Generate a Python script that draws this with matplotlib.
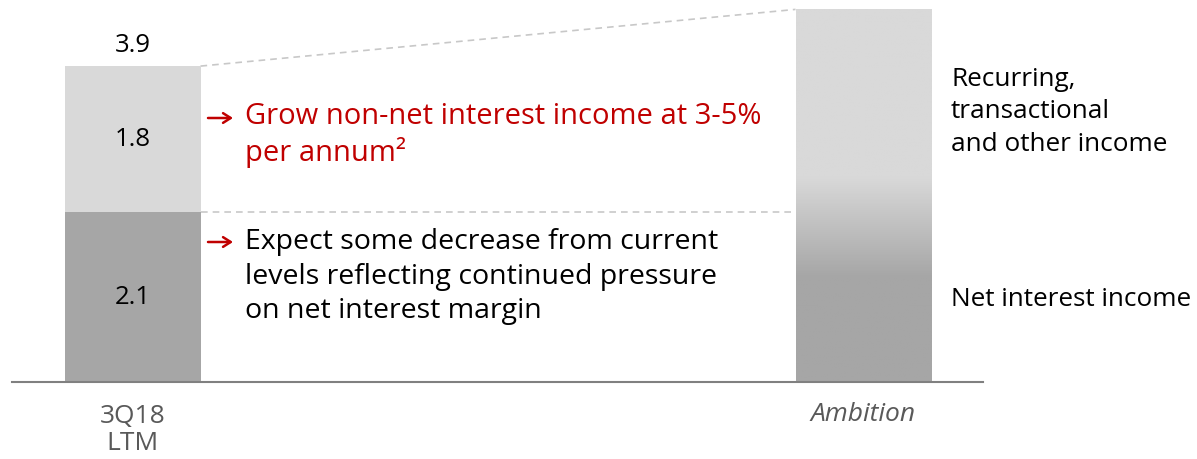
import matplotlib
matplotlib.use("Agg")
import matplotlib.pyplot as plt
import numpy as np
from matplotlib.colors import LinearSegmentedColormap

plt.rcParams['font.family'] = ['Open Sans', 'DejaVu Sans']

# data
categories = ['3Q18\nLTM', 'Ambition']
net_interest = [2.1]
other_income = [1.8]
totals = [3.9]
ambition_total = 4.6

LIGHT = '#d9d9d9'
DARK = '#a6a6a6'
RED = '#c00000'

W, H = 1197, 460
fig = plt.figure(figsize=(W / 100, H / 100), dpi=100)
ax = fig.add_axes([0, 0, 1, 1])

# x: bar centres at 0 and 1, 731 px apart; y: 0 at 383 px from top, 81 px per unit
xpx, ypx = 731.0, 81.0
x0, y0 = 132.5, 383.0
ax.set_xlim(-x0 / xpx, (W - x0) / xpx)
ax.set_ylim(-(H - y0) / ypx, y0 / ypx)
ax.axis('off')


def px(x, y):
    """reference pixel -> data coords"""
    return (x - x0) / xpx, (y0 - y) / ypx


bw = 136 / xpx

# left stacked bar
ax.bar([0], net_interest, width=bw, color=DARK, zorder=2)
ax.bar([0], other_income, width=bw, bottom=net_interest, color=LIGHT, zorder=2)

# ambition bar with vertical gradient
amb = ax.bar([1], [ambition_total], width=bw, color='none', zorder=2)[0]
cmap = LinearSegmentedColormap.from_list('g', [(0, DARK), (0.28, DARK), (0.55, LIGHT), (1, LIGHT)])
grad = np.linspace(0, 1, 256).reshape(-1, 1)
im = ax.imshow(grad, cmap=cmap, origin='lower', aspect='auto',
               extent=[1 - bw / 2, 1 + bw / 2, 0, ambition_total], zorder=1)
im.set_clip_path(amb)

# dashed connector lines
ax.plot([bw / 2, 1 - bw / 2], [totals[0], ambition_total], color='#c8c8c8',
        lw=1.2, ls=(0, (4, 3)), zorder=1)
ax.plot([bw / 2, 1 - bw / 2], [net_interest[0], net_interest[0]], color='#c8c8c8',
        lw=1.2, ls=(0, (4, 3)), zorder=1)

# baseline
xa, _ = px(12, 0)
xb, _ = px(983, 0)
ax.plot([xa, xb], [0, 0], color='#808080', lw=1.5, zorder=3)

# value labels
fs = 18.5
ax.text(0, totals[0] + 0.27, f'{totals[0]:.1f}', ha='center', va='center', fontsize=fs)
ax.text(0, net_interest[0] + other_income[0] / 2, f'{other_income[0]:.1f}',
        ha='center', va='center', fontsize=fs)
ax.text(0, net_interest[0] / 2, f'{net_interest[0]:.1f}', ha='center', va='center', fontsize=fs)

# category labels
ax.text(0, px(0, 430)[1], categories[0], ha='center', va='center', fontsize=19,
        color='#595959', linespacing=1.15)
ax.text(1, px(0, 415)[1], categories[1], ha='center', va='center', fontsize=19,
        color='#595959', style='italic')

# annotations
def line(x, y, s, color='black', size=20.5):
    ax.text(*px(x, y), s, ha='left', va='center', fontsize=size, color=color)


def bullet_arrow(y):
    ax.annotate('', xy=px(233, y), xytext=px(208, y),
                arrowprops=dict(arrowstyle='->,head_length=0.55,head_width=0.35',
                                color=RED, lw=1.8, shrinkA=0, shrinkB=0))


bullet_arrow(119)
line(245, 117, 'Grow non-net interest income at 3-5%', RED, 21)
line(245, 153, 'per annum\u00b2', RED, 21)
bullet_arrow(243)
line(245, 242, 'Expect some decrease from current')
line(245, 277, 'levels reflecting continued pressure')
line(245, 311, 'on net interest margin')

line(951, 80, 'Recurring,', size=18.8)
line(951, 112, 'transactional', size=18.8)
line(951, 145, 'and other income', size=18.8)
line(951, 300, 'Net interest income', size=18.8)

fig.savefig('out.png', dpi=100)
